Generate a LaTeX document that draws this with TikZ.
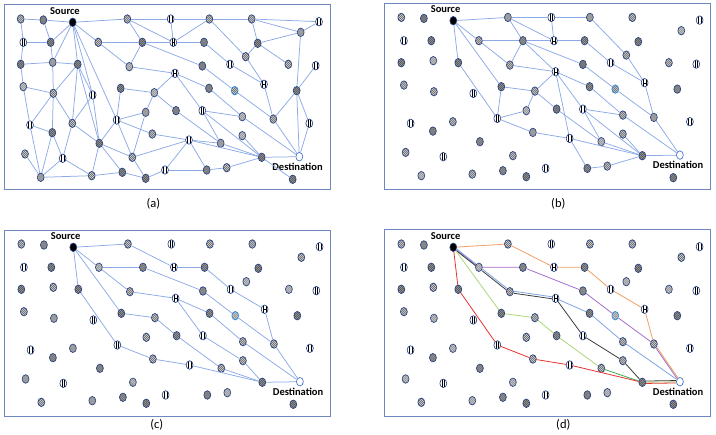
\documentclass[tikz,border=0pt]{standalone}
\usepackage{fontspec}
\setmainfont{Carlito}
\usetikzlibrary{shapes.geometric}
\definecolor{edgec}{RGB}{140,170,230}
\definecolor{ndline}{RGB}{40,65,130}
\definecolor{framec}{RGB}{110,135,190}
\definecolor{corange}{RGB}{240,160,100}
\definecolor{cpurple}{RGB}{165,110,205}
\definecolor{cblue}{RGB}{125,165,228}
\definecolor{cblack}{RGB}{60,60,60}
\definecolor{cgreen}{RGB}{170,215,120}
\definecolor{cgreen2}{RGB}{60,175,80}
\definecolor{cred}{RGB}{230,50,50}
\tikzset{
 nd/.style={ellipse, minimum width=6.9pt, minimum height=8.5pt, inner sep=0pt, draw=ndline, line width=0.65pt},
 ln/.style={nd, fill=gray!25, path picture={\foreach \k in {-12,-10,-8,-6,-4,-2,0,2}{\draw[black!65, line width=0.5pt] ([xshift=\k pt, yshift=6pt]path picture bounding box.center) -- ++(12pt,-12pt);}}},
 bn/.style={ln, draw={rgb,255:red,40;green,140;blue,230}},
 dn/.style={nd, fill=black!72, path picture={\foreach \k in {-12,-10,-8,-6,-4,-2,0,2}{\draw[gray!70, line width=0.3pt] ([xshift=\k pt, yshift=6pt]path picture bounding box.center) -- ++(12pt,-12pt); \draw[gray!70, line width=0.3pt] ([xshift=\k pt, yshift=-6pt]path picture bounding box.center) -- ++(12pt,12pt);}}},
 vn/.style={nd, fill=white, path picture={\draw[black, line width=0.55pt] ([xshift=-1.3pt, yshift=-6pt]path picture bounding box.center) -- ++(0pt,12pt); \draw[black, line width=0.55pt] ([xshift=1.3pt, yshift=-6pt]path picture bounding box.center) -- ++(0pt,12pt);}},
 hn/.style={nd, fill=white, path picture={\draw[black, line width=0.55pt] ([xshift=-1.3pt, yshift=-6pt]path picture bounding box.center) -- ++(0pt,12pt); \draw[black, line width=0.55pt] ([xshift=1.3pt, yshift=-6pt]path picture bounding box.center) -- ++(0pt,12pt); \draw[black, line width=0.35pt] ([xshift=-1.3pt]path picture bounding box.center) -- ++(2.6pt,0pt);}},
 src/.style={nd, fill=black},
 dst/.style={nd, fill=white, draw={rgb,255:red,60;green,110;blue,200}},
 lnk/.style={draw=edgec, line width=0.75pt},
 lab/.style={font=\bfseries\fontsize{10.5}{12}\selectfont, inner sep=0pt},
 plab/.style={font=\fontsize{12.5}{14}\selectfont, inner sep=0pt},
 frm/.style={draw=framec, line width=0.9pt},
 pth/.style={line width=0.8pt}
}
\def\nodelist{1/20.7/19/ln, 2/43.3/20/dn, S/72.7/22.3/src, 4/127.3/19/ln, 5/170.7/19/vn, 6/209.3/19/ln, 7/251.7/19/ln, 8/319/21.7/vn, 9/300.7/32.3/ln,
10/23.3/42.3/vn, 11/50.7/42.3/dn, 12/98.3/42.3/ln, 13/142.3/42.3/dn, 14/173.3/42.3/hn, 15/204/42.3/dn, 16/257.7/43.3/dn, 17/245.7/56.7/ln,
18/20.7/64.3/dn, 19/52.7/62.3/ln, 20/77.7/64.3/dn, 21/129.3/66.7/ln, 22/175/73.3/hn, 23/202.3/66/dn, 24/230/64.3/vn, 25/288.3/64.3/ln, 26/315.7/65.7/vn,
27/23.3/86.7/ln, 28/53.3/93.3/ln, 29/92.7/95/vn, 30/120.7/88.3/dn, 31/154.3/92.7/ln, 32/209/88.3/dn, 33/234.7/90.7/bn, 34/264/84.3/hn, 35/296.7/90.7/dn,
36/145.7/112.3/ln, 37/176/110.7/dn, 38/202.3/110.7/vn, 39/242.3/116.7/ln, 40/273.3/119/ln,
41/30/125/vn, 42/72.3/123.3/ln, 43/116.7/120/vn, 44/309.3/123.3/vn,
45/52.3/132.7/dn, 46/152.3/134/ln, 47/242.3/135.7/ln, 48/189/140/vn, 49/99.3/143.3/dn, 50/220.7/143.3/ln,
51/25/154/ln, 52/62.7/158.3/vn, 53/132.3/157.3/ln, 54/261.7/157.3/dn, D/299.3/156.7/dst,
56/40.7/177.3/ln, 57/91.7/175.7/ln, 58/122.3/172.3/dn, 59/145.7/178.3/dn, 60/165/170/vn, 61/206.7/170/dn, 62/226.7/167.7/ln, 63/292.7/179.3/dn}
\newcommand\placenodes[1]{%
  \foreach \i/\x/\y/\t in \nodelist {\node[\t] (#1\i) at (\x,\y) {};}%
  \node[lab] (#1src) at (65,10.8) {Source};%
  \node[lab] (#1dst) at (297.5,166.6) {Destination};%
}
\begin{document}
\begin{tikzpicture}[x=1pt,y=-1pt]
\useasboundingbox (0,0) rectangle (716,435);
% frames
\draw[frm] (4,4.5) rectangle (330.3,189.5);
\draw[frm] (384,3.3) rectangle (710.7,189.3);
\draw[frm] (4,230) rectangle (330.7,416);
\draw[frm] (384,229.5) rectangle (710.7,416);
% panel (a)
\begin{scope}
\placenodes{a}
\foreach \u/\v in {1/2, 2/S, 1/10, 2/11, 10/11, 10/18, 11/19, S/11, S/19, 18/19, 18/27, 19/20, 19/28, 20/S, 20/28, 20/29, 20/42, 20/49, 27/28, 27/41, 28/41, 28/45, 28/42, 29/42, 29/49, 41/45, 41/56, 42/52, 42/49, 45/52, 45/56, 51/56, 52/56, 52/57, 56/57, 57/49, 57/58, 49/43, 49/58, 49/53, 43/30, 43/S, S/29, 43/36, 43/46, 43/53, 30/31, 31/22, 31/36, 31/37, 36/53, 53/48, 46/48, 53/59, 58/59, 59/60, 60/48, 60/61, 61/62, 62/54, 48/61, 48/54, 48/50, 38/50, 38/39, 38/54, 37/50, 22/32, 32/39, 39/D, 22/21, 22/38, 13/21, 12/21, 12/13, 13/14, 14/15, 13/23, 4/13, 4/14, 5/14, 6/14, S/4, 4/5, 5/6, 6/7, 7/8, S/12, 15/24, 24/34, 23/33, 33/40, 6/17, 7/9, 7/16, 9/8, 9/16, 16/17, 16/25, 17/34, 9/35, 26/35, 34/40, 35/40, 35/44, 35/D, 44/D, 40/D, 47/54, 50/54, 54/D, 54/63}
  {\draw[lnk] (a\u) -- (a\v);}
\end{scope}
% panel (b)
\begin{scope}[shift={(380.6,-1.6)}]
\placenodes{b}
\foreach \u/\v in {S/4, 4/5, 5/6, S/12, 12/13, 13/14, 14/15, 4/13, 4/14, 5/14, 6/17, 17/34, 34/40, 40/D, 13/21, 12/21, 13/22, 21/22, 13/23, 15/24, 24/34, 22/32, 32/39, 39/D, 22/31, 22/38, S/20, 20/43, S/30, 30/31, 30/43, 31/36, 36/43, 31/37, 43/46, 46/48, 48/61, 61/62, 62/54, 48/54, 22/48, 38/39, 38/50, 38/54, 37/50, 47/54, 50/54, 23/33, 33/40, 54/D}
  {\draw[lnk] (b\u) -- (b\v);}
\end{scope}
% panel (c)
\begin{scope}[shift={(0.6,225)}]
\placenodes{c}
\foreach \u/\v in {S/4, 4/14, 14/15, 15/24, 24/34, 34/40, 40/D, S/12, 12/13, 13/23, 23/33, 33/40, 12/21, 21/22, 22/32, 32/39, 39/D, 22/38, 38/47, 47/54, S/30, 30/31, 31/37, 37/50, 50/54, S/20, 20/43, 43/46, 46/48, 48/54, 54/D}
  {\draw[lnk] (c\u) -- (c\v);}
\end{scope}
% panel (d)
\begin{scope}[shift={(380.6,225)}]
\placenodes{d}
\draw[pth, corange] (dS) -- (d4) -- (d14) -- (d15) -- (d24) -- (d34) -- (d40);
\draw[pth, corange, transform canvas={xshift=0.7pt}] (d40) -- (dD);
\draw[pth, cpurple] (dS) -- (d12) -- (d13) -- (d23) -- (d33) -- (d40);
\draw[pth, cpurple, transform canvas={xshift=-0.7pt}] (d40) -- (dD);
\draw[pth, cblue, transform canvas={yshift=1pt}] (dS) -- (d12) -- (d21) -- (d22);
\draw[pth, cblue] (d22) -- (d32) -- (d39) -- (dD);
\draw[pth, cblack, transform canvas={yshift=-1pt}] (dS) -- (d12) -- (d21) -- (d22);
\draw[pth, cblack] (d22) -- (d38) -- (d47) -- (d54);
\draw[pth, cblack, transform canvas={yshift=1.2pt}] (d54) -- (dD);
\draw[pth, cgreen] (dS) -- (d30) -- (d31) -- (d37) -- (d50);
\draw[pth, cgreen2] (d50) -- (d54);
\draw[pth, cgreen] (d54) -- (dD);
\draw[pth, cred] (dS) -- (d20) -- (d43) -- (d46) -- (d48) -- (d54);
\draw[pth, cred, transform canvas={yshift=-1.2pt}] (d54) -- (dD);
\end{scope}
% panel labels
\node[plab] (la) at (153.3,203.5) {(a)};
\node[plab] (lb) at (558.3,203.5) {(b)};
\node[plab] (lc) at (156.7,424.5) {(c)};
\node[plab] (ld) at (563.3,424.5) {(d)};
\end{tikzpicture}
\end{document}
